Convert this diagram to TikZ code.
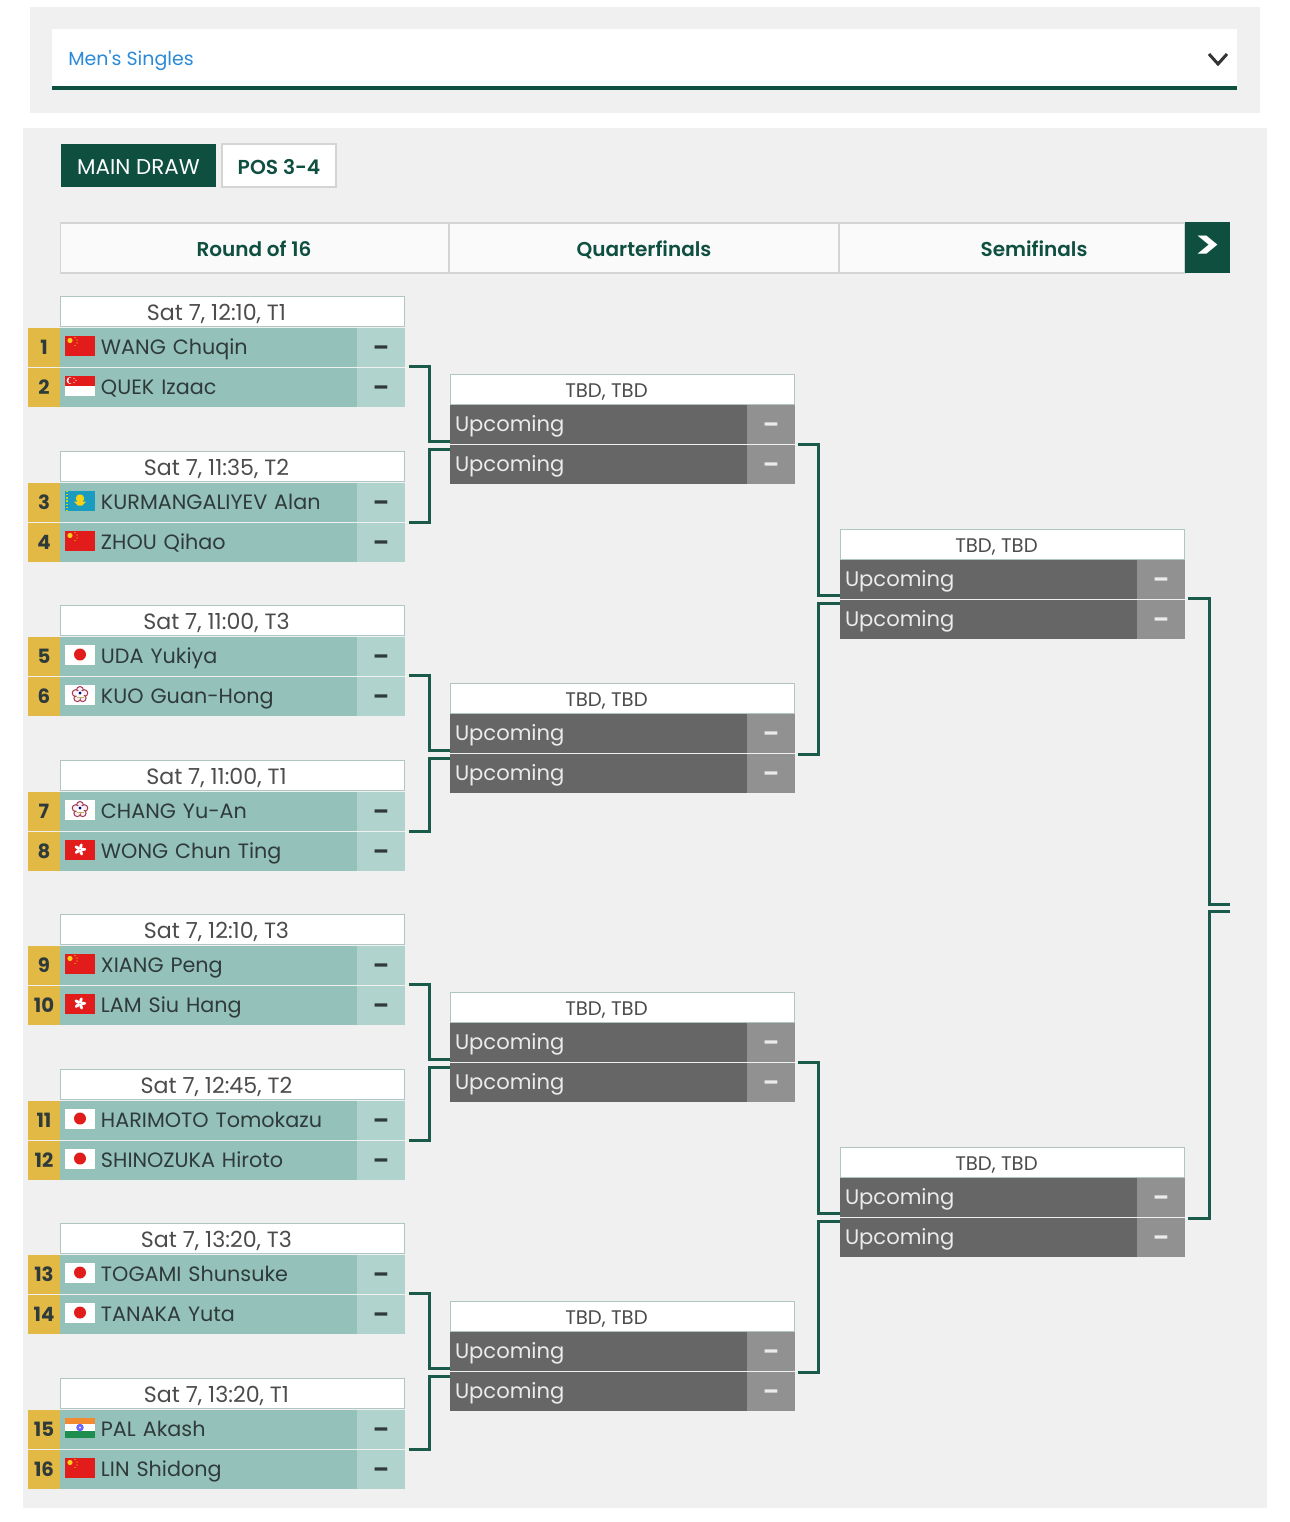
\documentclass[tikz,border=0pt]{standalone}
\usepackage{fontspec}
\setmainfont{Poppins}
\newfontfamily\medfont{Poppins SemiBold}
\usepackage{tikz}

\definecolor{panelgrey}{HTML}{F0F0F0}
\definecolor{drawgreen}{HTML}{0F4F40}
\definecolor{linkgreen}{HTML}{1A5A4B}
\definecolor{rowteal}{HTML}{94C1B9}
\definecolor{scoreteal}{HTML}{B1D3CD}
\definecolor{seedgold}{HTML}{E2B944}
\definecolor{rowdark}{HTML}{666666}
\definecolor{scoredark}{HTML}{919191}
\definecolor{headline}{HTML}{B0C6C3}
\definecolor{barline}{HTML}{D4D4D4}
\definecolor{inktext}{HTML}{2F3B3A}
\definecolor{menublue}{HTML}{2B8AD8}
\definecolor{flagred}{HTML}{E21B1B}
\definecolor{flagstar}{HTML}{F7D117}
\definecolor{flagblue}{HTML}{1A9CC0}
\definecolor{flagorange}{HTML}{F28A30}
\definecolor{flaggreen}{HTML}{1E8E4E}

\tikzset{
  base/.style={rectangle,anchor=north west,inner sep=0pt,outer sep=0pt},
  headbox/.style={base,draw=headline,line width=0.025cm,fill=white,minimum width=6.88cm,minimum height=0.6cm,
    text height=0.3cm,text depth=0cm,text=black!70,font=\fontsize{11.2}{13}\selectfont},
  seedbox/.style={base,fill=seedgold,minimum width=0.64cm,minimum height=0.78cm,text=inktext,
    font=\fontsize{11.2}{13}\bfseries\selectfont},
  namebox/.style={base,fill=rowteal,text width=5.94cm,align=left,minimum height=0.78cm,text height=0.31cm,text depth=0.03cm,
    text=inktext,font=\fontsize{11.8}{14}\selectfont},
  dashbox/.style={base,fill=scoreteal,minimum width=0.96cm,minimum height=0.78cm,text height=0.33cm,text depth=0cm,text=inktext,
    font=\fontsize{13}{14}\bfseries\selectfont},
  darkbox/.style={namebox,fill=rowdark,text=white!92!black,font=\fontsize{12}{14}\selectfont},
  darkdash/.style={dashbox,fill=scoredark,text=white!92!black},
  bracket/.style={draw=linkgreen,line width=0.06cm},
  tabbox/.style={base,minimum height=0.86cm,text height=0.36cm,text depth=0cm},
  roundlabel/.style={text=drawgreen,inner sep=0pt,text height=0.3cm,text depth=0.02cm,font=\fontsize{11.4}{13}\medfont}
}

% flags, local origin at the middle of the left edge
\newcommand{\flagchn}{
  \fill[flagred] (0,-10) rectangle (30,10);
  \fill[flagstar] (5,-5) circle (2.6);
  \foreach \p in {(10,-8),(12,-5.5),(12,-2.5),(10,0)} \fill[flagstar] \p circle (0.7);
}
\newcommand{\flagsgp}{
  \fill[white] (0,-10) rectangle (30,10);
  \fill[flagred] (0,-10) rectangle (30,0);
  \fill[white] (5,-5) circle (3.4);
  \fill[flagred] (6.5,-5) circle (3.2);
  \foreach \p in {(9,-7),(11,-5),(9,-3)} \fill[white] \p circle (0.6);
}
\newcommand{\flagkaz}{
  \fill[flagblue] (0,-10) rectangle (30,10);
  \draw[flagstar!80!green,line width=0.03cm,densely dotted] (2,-10) -- (2,10);
  \fill[flagstar] (15,-2) circle (4.2);
  \fill[flagstar] (9,1) -- (21,1) -- (17,5) -- (13,5) -- cycle;
}
\newcommand{\flagjpn}{
  \fill[white] (0,-10) rectangle (30,10);
  \fill[flagred] (15,0) circle (6);
}
\newcommand{\flagtpe}{
  \fill[white] (0,-10) rectangle (30,10);
  \foreach \a in {-90,-18,54,126,198}
    \draw[purple!55!gray,fill=pink!25,line width=0.02cm] (15,0) ++(\a:4.6) circle (3.4);
  \fill[white] (15,0) circle (4);
  \fill[blue!60!black] (15,-1.5) circle (1.6);
  \fill[olive!60] (11.5,2) rectangle (18.5,3.2);
}
\newcommand{\flaghkg}{
  \fill[flagred] (0,-10) rectangle (30,10);
  \foreach \a in {-90,-18,54,126,198}
    \fill[white,rotate around={\a+20:(15,0)}] (18.2,0) ellipse (3 and 1.6);
  \fill[flagred] (15,0) circle (0.5);
}
\newcommand{\flagind}{
  \fill[white] (0,-10) rectangle (30,10);
  \fill[flagorange] (0,-10) rectangle (30,-3.5);
  \fill[flaggreen] (0,3.5) rectangle (30,10);
  \draw[blue!60!white,line width=0.05cm] (15,0) circle (2.4);
}

% round of 16 match: id, top, time, seed, flag, name, seed, flag, name
\newcommand{\rmatch}[9]{
  \node[headbox,text height=0.34cm] (r#1h) at (60.5,#2+0.5) {\fontsize{12.6}{14}\selectfont #3\hspace*{0.64cm}};
  \node[seedbox] (r#1as) at (28,#2+32) {#4};
  \node[namebox] (r#1a) at (60,#2+32) {\hspace*{0.82cm}#6};
  \node[dashbox] (r#1ad) at (357,#2+32) {--};
  \node[seedbox] (r#1bs) at (28,#2+72) {#7};
  \node[namebox] (r#1b) at (60,#2+72) {\hspace*{0.82cm}#9};
  \node[dashbox] (r#1bd) at (357,#2+72) {--};
  \begin{scope}[shift={([shift={(5,-2)}]r#1a.west)}] #5 \end{scope}
  \begin{scope}[shift={([shift={(5,-2)}]r#1b.west)}] #8 \end{scope}
}
% later rounds: id, left, top
\newcommand{\umatch}[3]{
  \node[headbox] (#1h) at (#2+0.5,#3+0.5) {TBD, TBD\hspace*{0.64cm}};
  \node[darkbox] (#1a) at (#2,#3+31) {\hspace*{0.1cm}Upcoming};
  \node[darkdash] (#1ad) at (#2+297,#3+31) {--};
  \node[darkbox] (#1b) at (#2,#3+71) {\hspace*{0.1cm}Upcoming};
  \node[darkdash] (#1bd) at (#2+297,#3+71) {--};
}

\begin{document}
\begin{tikzpicture}[x=0.02cm,y=-0.02cm]
    \useasboundingbox (0,0) rectangle (1290,1522);

    % Panels
    \fill[panelgrey] (30,7) rectangle (1260,113);
    \fill[panelgrey] (23,128) rectangle (1267,1508);

    % Event selector
    \fill[white] (52,29) rectangle (1237,87);
    \fill[drawgreen] (52,86) rectangle (1237,90);
    \node[anchor=west,inner sep=0pt,text=menublue,font=\fontsize{10.8}{13}\selectfont] (event) at (68,61) {Men\textquotesingle s Singles};
    \draw[line width=0.06cm,black!80] (1209,54) -- (1218,64) -- (1227,54);

    % Tabs
    \node[tabbox,fill=drawgreen,text=white,minimum width=3.1cm,font=\fontsize{12.2}{14}\selectfont] (maintab) at (61,144) {MAIN DRAW};
    \node[tabbox,fill=white,draw=barline,line width=0.025cm,text=drawgreen,minimum width=2.28cm,font=\fontsize{11.5}{14}\medfont] (postab) at (222,144) {POS 3-4};

    % Round titles
    \fill[white!98!black,draw=barline,line width=0.03cm] (60.5,223) rectangle (1185,273);
    \draw[barline,line width=0.025cm] (449,223) -- (449,273);
    \draw[barline,line width=0.025cm] (839,223) -- (839,273);
    \node[roundlabel] (round1) at (254,249) {Round of 16};
    \node[roundlabel] (round2) at (644,249) {Quarterfinals};
    \node[roundlabel] (round3) at (1034,249) {Semifinals};
    \node[base,fill=drawgreen,text=white,minimum width=0.9cm,minimum height=1.02cm,text height=0.47cm,text depth=0cm,font=\fontsize{23}{25}\medfont] (next) at (1185,222) {\scalebox{1.25}[1]{>}};

    % Round of 16
    \rmatch{1}{296}{Sat 7, 12:10, T1}{1}{\flagchn}{WANG Chuqin}{2}{\flagsgp}{QUEK Izaac}
    \rmatch{2}{451}{Sat 7, 11:35, T2}{3}{\flagkaz}{KURMANGALIYEV Alan}{4}{\flagchn}{ZHOU Qihao}
    \rmatch{3}{605}{Sat 7, 11:00, T3}{5}{\flagjpn}{UDA Yukiya}{6}{\flagtpe}{KUO Guan-Hong}
    \rmatch{4}{760}{Sat 7, 11:00, T1}{7}{\flagtpe}{CHANG Yu-An}{8}{\flaghkg}{WONG Chun Ting}
    \rmatch{5}{914}{Sat 7, 12:10, T3}{9}{\flagchn}{XIANG Peng}{10}{\flaghkg}{LAM Siu Hang}
    \rmatch{6}{1069}{Sat 7, 12:45, T2}{11}{\flagjpn}{HARIMOTO Tomokazu}{12}{\flagjpn}{SHINOZUKA Hiroto}
    \rmatch{7}{1223}{Sat 7, 13:20, T3}{13}{\flagjpn}{TOGAMI Shunsuke}{14}{\flagjpn}{TANAKA Yuta}
    \rmatch{8}{1378}{Sat 7, 13:20, T1}{15}{\flagind}{PAL Akash}{16}{\flagchn}{LIN Shidong}

    % Quarterfinals
    \umatch{q1}{450}{374}
    \umatch{q2}{450}{683}
    \umatch{q3}{450}{992}
    \umatch{q4}{450}{1301}

    % Semifinals
    \umatch{s1}{840}{529}
    \umatch{s2}{840}{1147}

    % Brackets
    \draw[bracket] ([shift={(4,-1)}]r1ad.south east) -- ++(21,0) |- ([shift={(0,-3)}]q1a.south west);
    \draw[bracket] ([shift={(4,0)}]r2ad.south east) -- ++(21,0) |- ([shift={(0,4)}]q1b.north west);
    \draw[bracket] ([shift={(4,-1)}]r3ad.south east) -- ++(21,0) |- ([shift={(0,-3)}]q2a.south west);
    \draw[bracket] ([shift={(4,0)}]r4ad.south east) -- ++(21,0) |- ([shift={(0,4)}]q2b.north west);
    \draw[bracket] ([shift={(4,-1)}]r5ad.south east) -- ++(21,0) |- ([shift={(0,-3)}]q3a.south west);
    \draw[bracket] ([shift={(4,0)}]r6ad.south east) -- ++(21,0) |- ([shift={(0,4)}]q3b.north west);
    \draw[bracket] ([shift={(4,-1)}]r7ad.south east) -- ++(21,0) |- ([shift={(0,-3)}]q4a.south west);
    \draw[bracket] ([shift={(4,0)}]r8ad.south east) -- ++(21,0) |- ([shift={(0,4)}]q4b.north west);

    \draw[bracket] ([shift={(3,0)}]q1ad.south east) -- ++(21,0) |- ([shift={(0,-4)}]s1a.south west);
    \draw[bracket] ([shift={(3,1)}]q2ad.south east) -- ++(21,0) |- ([shift={(0,3)}]s1b.north west);
    \draw[bracket] ([shift={(3,0)}]q3ad.south east) -- ++(21,0) |- ([shift={(0,-4)}]s2a.south west);
    \draw[bracket] ([shift={(3,1)}]q4ad.south east) -- ++(21,0) |- ([shift={(0,3)}]s2b.north west);

    \coordinate (finalup) at (1230,904);
    \coordinate (finaldown) at (1230,911);
    \draw[bracket] ([shift={(3,-1)}]s1ad.south east) -- ++(21,0) |- (finalup);
    \draw[bracket] ([shift={(3,1)}]s2ad.south east) -- ++(21,0) |- (finaldown);

\end{tikzpicture}
\end{document}
